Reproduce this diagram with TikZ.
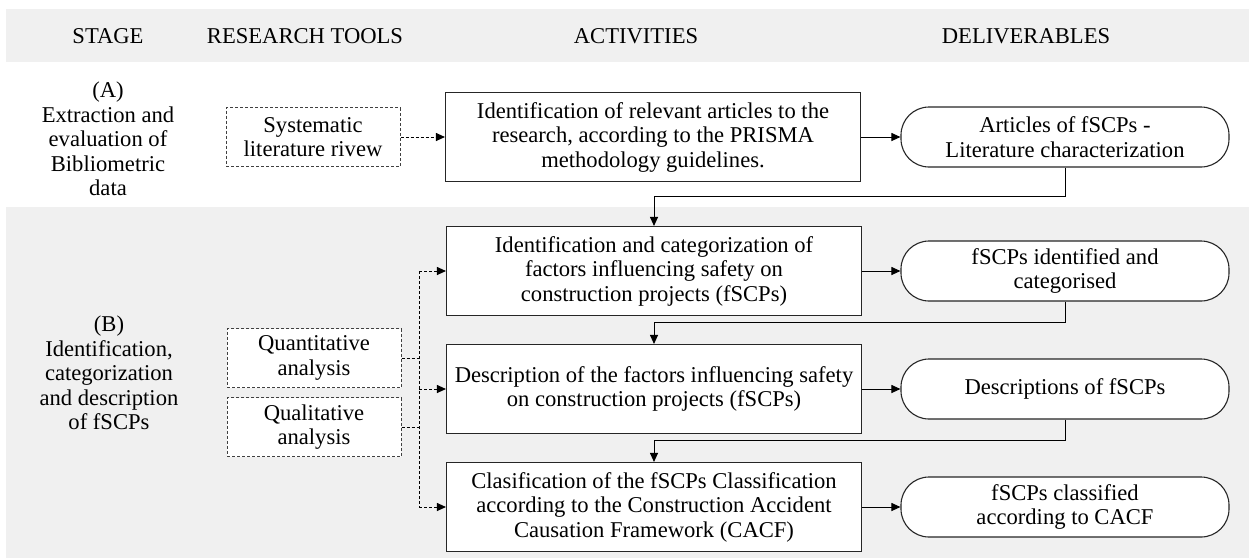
\documentclass[tikz,border=0pt]{standalone}
\usepackage{fontspec}
\setmainfont{Liberation Serif}
\usetikzlibrary{arrows.meta,calc}

\begin{document}
\begin{tikzpicture}[x=0.5pt, y=-0.5pt, font=\fontsize{11.3}{12.25}\selectfont,
  band/.style={fill=black!6},
  activity/.style={rectangle, draw=black!85, line width=0.55pt, fill=white, minimum width=207.5pt, minimum height=44.5pt, align=center, inner sep=1pt},
  deliverable/.style={rectangle, rounded corners=14pt, draw=black!85, line width=0.55pt, fill=white, minimum width=164pt, minimum height=30pt, align=center, inner sep=1pt},
  tool/.style={rectangle, draw=black!75, line width=0.5pt, dash pattern=on 1.5pt off 1pt, fill=white, minimum width=87pt, minimum height=29.5pt, align=center, inner sep=1pt},
  flow/.style={-{Triangle[length=4.5pt,width=4pt]}, line width=0.5pt},
  dashline/.style={line width=0.5pt, dash pattern=on 1.5pt off 1pt},
  toolflow/.style={flow, dashline}]
\useasboundingbox (0,0) rectangle (1249,559);
% grey bands: header row and stage B
\fill[band] (6,9) rectangle (1249,62);
\fill[band] (6,207) rectangle (1249,558);
\foreach \x/\name/\txt in {108/hstage/STAGE, 305/htools/RESEARCH TOOLS, 636/hact/ACTIVITIES, 1026/hdel/DELIVERABLES}
  \node (\name) at (\x,36) {\txt};
\node[align=center] (stageA) at (108,139) {(A)\\Extraction and\\evaluation of\\Bibliometric\\data};
\node[align=center] (stageB) at (109,373) {(B)\\Identification,\\categorization\\and description\\of fSCPs};
% research tools
\node[tool] (sys) at (313,137) {Systematic\\literature rivew};
\node[tool] (quant) at (314,358) {Quantitative\\analysis};
\node[tool] (qual) at (314,427) {Qualitative\\analysis};
% activities
\node[activity] (actA) at (653,137) {Identification of relevant articles to the\\research, according to the PRISMA\\methodology guidelines.};
\node[activity] (actB1) at (654,271) {Identification and categorization of\\factors influencing safety on\\construction projects (fSCPs)};
\node[activity] (actB2) at (654,389) {Description of the factors influencing safety\\on construction projects (fSCPs)};
\node[activity] (actB3) at (654,507) {Clasification of the fSCPs Classification\\according to the Construction Accident\\Causation Framework (CACF)};
% deliverables
\node[deliverable] (delA) at (1065,137) {Articles of fSCPs -\\Literature characterization};
\node[deliverable] (delB1) at (1065,271) {fSCPs identified and\\categorised};
\node[deliverable] (delB2) at (1065,389) {Descriptions of fSCPs};
\node[deliverable] (delB3) at (1065,507) {fSCPs classified\\according to CACF};
\foreach \r in {A,B1,B2,B3}
  \draw[flow] (act\r.east) -- (del\r.west);
\foreach \a/\b in {delA/actB1, delB1/actB2, delB2/actB3} {
  \coordinate (m\b) at ($(\a.south)!0.5!(\b.north)$);
  \draw[flow] (\a.south) |- (m\b) -| (\b.north);
}
% dashed links from the tools
\coordinate (bus) at (419,0);
\draw[toolflow] (sys.east) -- (actA.west);
\draw[dashline] (quant.east) -- (quant.east -| bus);
\draw[dashline] (qual.east) -- (qual.east -| bus);
\draw[dashline] (bus |- actB1.west) -- (bus |- actB3.west);
\foreach \r in {B1,B2,B3}
  \draw[toolflow] (bus |- act\r.west) -- (act\r.west);
\end{tikzpicture}
\end{document}
